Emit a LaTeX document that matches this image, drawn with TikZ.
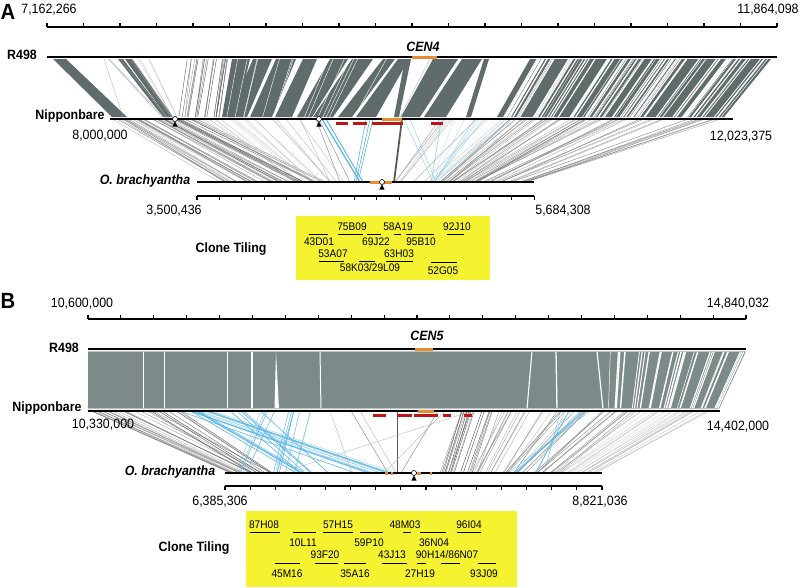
\documentclass[tikz,border=0pt]{standalone}
\usepackage{fontspec}
\setmainfont[FakeStretch=0.92]{Liberation Sans}
\usetikzlibrary{positioning, calc}
\definecolor{band}{RGB}{96,107,107}
\definecolor{bandB}{RGB}{124,138,138}
\definecolor{cen}{RGB}{232,140,52}
\definecolor{bac}{RGB}{190,22,22}
\definecolor{inv}{RGB}{86,180,228}
\definecolor{tile}{RGB}{245,242,48}

% fan of synteny lines: ytop, ybot, top from, top to, bottom from, bottom to, count, style
\newcommand\synfan[8]{%
  \foreach \k in {1,...,#7}{%
    \pgfmathsetmacro\fa{rnd}%
    \pgfmathsetmacro\fb{max(0,min(1,\fa+0.06*rand))}%
    \pgfmathsetmacro\fo{0.45+0.55*rnd}%
    \draw[#8, draw opacity=\fo] ({#3+\fa*(#4-#3)},#1) -- ({#5+\fb*(#6-#5)},#2);%
  }%
}
% centromere marker
\newcommand\cenmark[2]{%
  \fill[black] ({#1},{#2+2.5}) -- ({#1-2.6},{#2+7.5}) -- ({#1+2.6},{#2+7.5}) -- cycle;
  \draw[black, fill=white, line width=0.6pt] (#1,#2) circle (2.5);
}

\begin{document}
\begin{tikzpicture}[x=1pt, y=-1pt,
    every node/.style={inner sep=0pt, text depth=0pt},
    num/.style={font=\fontsize{13.5}{15}\selectfont},
    lab/.style={font=\fontsize{13.5}{15}\selectfont\bfseries},
    italab/.style={font=\fontsize{13.5}{15}\selectfont\bfseries\itshape},
    panel/.style={font=\fontsize{22}{24}\selectfont\bfseries},
    clone/.style={font=\fontsize{11}{13}\selectfont},
    chrom/.style={line width=2.8pt, black},
    axis/.style={line width=1.1pt, black},
    censeg/.style={line width=3pt, cen},
    bacbar/.style={line width=3.2pt, bac},
    tilebar/.style={line width=1pt, black},
    lgrayline/.style={line width=0.35pt, black!30},
    mgrayline/.style={line width=0.4pt, black!50},
    dgrayline/.style={line width=0.45pt, black!65},
    blueline/.style={line width=0.6pt, inv},
    lblueline/.style={line width=0.4pt, inv!70}]
  \useasboundingbox (0,0) rectangle (801,587);
  \pgfmathsetseed{4021}

  % ---------------- panel A ----------------
  \node[panel] (pA) at (8,12) {A};
  \node[num] (posA1) at (49,9) {7,162,266};
  \node[num] (posA2) at (768,9) {11,864,098};
  \draw[axis] (47,27) -- (777,27);
  \foreach \i in {0,...,20} \draw[axis] ({47+\i*36.5},27) -- ++(0,-4);

  % R498 vs Nipponbare
  \foreach \ta/\tb/\ba/\bb in {53/66/112/127, 118/123/163/167, 125/132/167/173,
      232/250/222/236, 253/272/228/247, 276/296/250/272, 303/317/275/292,
      330/348/297/312, 352/373/313/333, 383/395/338/352, 398/409/356/376,
      405/411/394/399, 433/458/401/420, 462/482/424/446, 484/489/466/471,
      530/772/497/725}
    \fill[band] (\ta,59) -- (\tb,59) -- (\bb,117) -- (\ba,117) -- cycle;
  \foreach \k in {1,...,95}{
    \pgfmathsetmacro\sa{rnd}
    \pgfmathsetmacro\sw{0.25+1.1*rnd}
    \draw[white, line width=\sw pt] ({530+\sa*242},59) -- ({497+\sa*228},117);
  }
  \foreach \k in {1,...,14}{
    \pgfmathsetmacro\sa{rnd}
    \draw[white, line width=0.4pt] ({232+\sa*180},59) -- ({222+\sa*154},117);
  }
  \synfan{59}{117}{100}{150}{160}{177}{10}{lgrayline}
  \synfan{59}{117}{186}{228}{177}{220}{24}{dgrayline}
  \draw[lgrayline] (430,59) -- (400,117);
  \draw[lgrayline] (104,59) -- (123,117);

  % Nipponbare vs O. brachyantha
  \synfan{119}{182}{110}{176}{212}{300}{34}{mgrayline}
  \synfan{119}{182}{160}{200}{280}{330}{14}{dgrayline}
  \synfan{119}{182}{200}{300}{290}{345}{18}{lgrayline}
  \synfan{119}{182}{440}{520}{395}{440}{14}{lgrayline}
  \synfan{119}{182}{510}{725}{440}{532}{60}{mgrayline}
  \synfan{119}{182}{418}{520}{430}{437}{10}{lblueline}
  \draw[mgrayline] (319,119) -- (350,182);
  \draw[mgrayline] (316,119) -- (340,182);
  \draw[lgrayline] (300,119) -- (330,182);
  \draw[blueline, line width=1.2pt] (322,119) -- (360,182);
  \draw[blueline, line width=0.9pt] (326,119) -- (363,182);
  \foreach \ta/\bb in {366/354, 370/356, 373/358}
    \draw[blueline] (\ta,119) -- (\bb,182);
  \draw[dgrayline, line width=1.8pt] (402,119) -- (394,182);
  \draw[lblueline] (404,119) -- (433,182);
  \draw[lblueline] (410,119) -- (436,182);

  \draw[chrom] (47,57) -- (777,57);
  \draw[chrom] (110,119) -- (733,119);
  \draw[chrom] (197,182) -- (534,182);
  \draw[censeg] (412,57) -- (437,57);
  \draw[censeg] (382,119) -- (402,119);
  \draw[censeg] (370,182) -- (392,182);
  \foreach \xa/\xb in {336/348, 353/367, 372/403, 431/443}
    \draw[bacbar] (\xa,123.5) -- (\xb,123.5);
  \cenmark{175}{119}
  \cenmark{319}{119}
  \cenmark{382}{182}

  \node[lab] (rA) at (22,55) {R498};
  \node[italab] (cenA) at (423,47) {CEN4};
  \node[lab] (nipA) at (70,115) {Nipponbare};
  \node[num] (posA3) at (100,135) {8,000,000};
  \node[num] (posA4) at (741,136) {12,023,375};
  \node[italab] (obA) at (145,180) {O. brachyantha};

  \draw[axis] (197,196) -- (534,196);
  \foreach \i in {0,...,15} \draw[axis] ({197+\i*22.47},196) -- ++(0,4);
  \node[num] (posA5) at (174,210) {3,500,436};
  \node[num] (posA6) at (563,210) {5,684,308};

  \fill[tile] (296,216) rectangle (490,280);
  \node[lab] (tileA) at (231,248) {Clone Tiling};
  \foreach \xa/\xb/\yl/\xt/\yt/\nm [count=\c] in {309/328/234/319/242/43D01,
      338/363/234/352/227/75B09, 367/381/234/376/242/69J22,
      394/401/234/398/227/58A19, 406/434/234/421/242/95B10,
      447/464/234/457/227/92J10, 319/344/261/333/254/53A07,
      359/375/261/370/268/58K03{/}29L09, 386/413/261/399/254/63H03,
      431/457/262/443/271/52G05}{
    \draw[tilebar] (\xa,\yl) -- (\xb,\yl);
    \node[clone] (cloneA\c) at (\xt,\yt) {\nm};
  }

  % ---------------- panel B ----------------
  \node[panel] (pB) at (8,301) {B};
  \node[num] (posB1) at (82,303) {10,600,000};
  \node[num] (posB2) at (738,303) {14,840,032};
  \draw[axis] (88,319) -- (746,319);
  \foreach \i in {0,...,20} \draw[axis] ({88+\i*32.9},319) -- ++(0,-4);

  % R498 vs Nipponbare
  \fill[bandB] (88,351) -- (746,351) -- (719,409) -- (88,409) -- cycle;
  \foreach \ta/\bb/\w in {252/252/1.6, 320/321/1, 532/527/1.1, 556/557/1.3,
      597/603/1.2, 143/143/0.3, 164/164/0.3, 227/227/0.3}
    \draw[white, line width=\w pt] (\ta,351) -- (\bb,409);
  \fill[white] (276,351) -- (274.5,409) -- (279,409) -- cycle;
  \foreach \k in {1,...,30}{
    \pgfmathsetmacro\sa{610+136*rnd}
    \pgfmathsetmacro\sw{0.3+1.2*rnd}
    \draw[white, line width=\sw pt] (\sa,351) -- ({\sa-27*(\sa-600)/146},409);
  }
  \draw[black!25, line width=0.8pt] (88,351.5) -- (746,351.5);
  \draw[black!25, line width=0.8pt] (88,408.8) -- (719,408.8);

  % Nipponbare vs O. brachyantha
  \synfan{411}{473}{88}{160}{228}{275}{24}{mgrayline}
  \synfan{411}{473}{148}{185}{252}{275}{8}{dgrayline}
  \synfan{411}{473}{178}{215}{355}{398}{12}{blueline}
  \synfan{411}{473}{190}{206}{296}{312}{5}{blueline}
  \synfan{411}{473}{230}{262}{300}{330}{6}{blueline}
  \synfan{411}{473}{285}{315}{268}{300}{8}{blueline}
  \synfan{411}{473}{255}{280}{232}{250}{4}{blueline}
  \foreach \ta/\bb/\st in {351/388/mgrayline, 397/397/dgrayline, 438/401/mgrayline,
      472/280/lgrayline, 330/352/lgrayline, 360/396/lgrayline, 445/384/lgrayline}
    \draw[\st] (\ta,411) -- (\bb,473);
  \synfan{411}{473}{460}{500}{440}{478}{20}{dgrayline}
  \synfan{411}{473}{500}{560}{470}{515}{15}{mgrayline}
  \synfan{411}{473}{560}{640}{505}{560}{22}{mgrayline}
  \synfan{411}{473}{640}{718}{555}{600}{20}{lgrayline}
  \synfan{411}{473}{560}{592}{545}{505}{8}{blueline}

  \draw[chrom] (88,349) -- (746,349);
  \draw[chrom] (88,411) -- (720,411);
  \draw[chrom] (225,473) -- (602,473);
  \draw[censeg] (415,349) -- (433,349);
  \draw[censeg] (418,411) -- (434,411);
  \foreach \xa/\xb in {385/388, 391/393, 417/421, 430/432}
    \draw[censeg] (\xa,473) -- (\xb,473);
  \foreach \xa/\xb in {373/386, 397/412, 414/438, 443/451, 464/472}
    \draw[bacbar] (\xa,415.5) -- (\xb,415.5);
  \cenmark{414}{473}

  \node[lab] (rB) at (64,348) {R498};
  \node[italab] (cenB) at (427,336) {CEN5};
  \node[lab] (nipB) at (47,407) {Nipponbare};
  \node[num] (posB3) at (103,424) {10,330,000};
  \node[num] (posB4) at (738,426) {14,402,000};
  \node[italab] (obB) at (170,471) {O. brachyantha};

  \draw[axis] (225,486) -- (602,486);
  \foreach \i in {0,...,15} \draw[axis] ({225+\i*25.13},486) -- ++(0,4);
  \node[num] (posB5) at (220,501) {6,385,306};
  \node[num] (posB6) at (600,501) {8,821,036};

  \fill[tile] (246,511) rectangle (517,587);
  \node[lab] (tileB) at (194,547) {Clone Tiling};
  \foreach \xa/\xb/\yl/\xt/\yt/\nm [count=\c] in {250/280/532/264/525/87H08,
      293/316/532/303/543/10L11, 323/353/532/338/525/57H15,
      360/383/532/369/543/59P10, 403/411/532/405/525/48M03,
      420/446/532/434/543/36N04, 457/481/532/469/525/96I04,
      275/300/563/287/574/45M16, 315/338/563/325/555/93F20,
      344/366/563/355/574/35A16, 382/407/563/392/555/43J13,
      417/426/563/420/574/27H19, 441/460/563/447/555/90H14{/}86N07,
      478/496/563/484/574/93J09}{
    \draw[tilebar] (\xa,\yl) -- (\xb,\yl);
    \node[clone] (cloneB\c) at (\xt,\yt) {\nm};
  }
\end{tikzpicture}
\end{document}
